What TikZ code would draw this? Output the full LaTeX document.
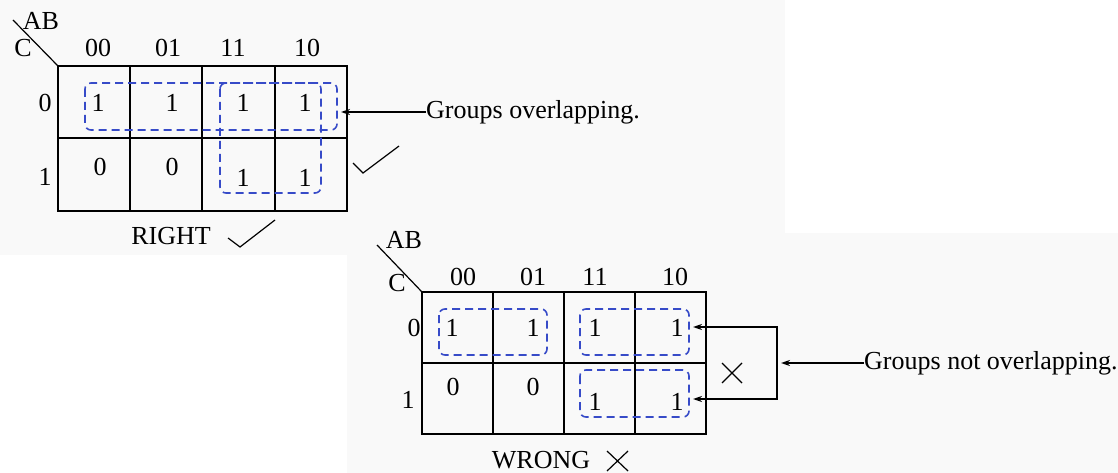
\documentclass[tikz,border=0pt]{standalone}
\usepackage{fontspec}
\setmainfont{Liberation Serif}
\usetikzlibrary{arrows.meta}
\definecolor{grpblue}{RGB}{55,75,200}
\definecolor{bggray}{RGB}{249,249,249}
\tikzset{
  kgrid/.style={line width=2pt},
  kgroup/.style={draw=grpblue,line width=1.6pt,dash pattern=on 8pt off 5pt,rounded corners=6pt},
  lbl/.style={inner sep=0pt,font=\fontsize{26}{29}\selectfont},
  tick/.style={line width=1.2pt},
  pointer/.style={line width=1.5pt,-{Stealth[length=9pt,width=6pt]}}
}

\begin{document}
\begin{tikzpicture}[x=1pt,y=-1pt]
\useasboundingbox (0,0) rectangle (1118,473);
\fill[bggray] (0,0) rectangle (785,255);
\fill[bggray] (347,233) rectangle (1118,473);

% right map
\draw[kgrid] (58,66) rectangle (347,211);
\draw[kgrid] (58,138) -- (347,138);
\foreach \x in {130,202,275} \draw[kgrid] (\x,66) -- (\x,211);
\draw[tick] (13,20) -- (58,66);
\node[lbl] (r-ab) at (41,21) {AB};
\node[lbl] (r-c) at (23,48) {C};
\foreach \t/\x in {00/98,01/168,11/233,10/307}
  \node[lbl] (r-col\t) at (\x,48) {\t};
\node[lbl] (r-row0) at (45,103) {0};
\node[lbl] (r-row1) at (45,177) {1};
\foreach \v/\x/\y [count=\i] in {1/98/103,1/172/103,1/243/103,1/305/103,
    0/100/167,0/172/167,1/243/178,1/305/178}
  \node[lbl] (r-cell\i) at (\x,\y) {\v};
\draw[kgroup] (85,83) rectangle (337,130);
\draw[kgroup] (220,83) rectangle (321,193);
\node[lbl,anchor=west] (r-note) at (426,112) {Groups overlapping.};
\coordinate (r-tip) at (341,112);
\draw[pointer] (r-note.west) -- (r-tip);
\draw[tick] (353,163) -- (363,173) -- (399,146);
\node[lbl] (r-verdict) at (171,236) {RIGHT};
\draw[tick] (228,238) -- (240,247) -- (275,220);

% wrong map
\draw[kgrid] (422,292) rectangle (706,434);
\draw[kgrid] (422,363) -- (706,363);
\foreach \x in {493,564,635} \draw[kgrid] (\x,292) -- (\x,434);
\draw[tick] (377,245) -- (422,292);
\node[lbl] (w-ab) at (404,240) {AB};
\node[lbl] (w-c) at (397,283) {C};
\foreach \t/\x in {00/463,01/533,11/595,10/675}
  \node[lbl] (w-col\t) at (\x,277) {\t};
\node[lbl] (w-row0) at (414,328) {0};
\node[lbl] (w-row1) at (408,400) {1};
\foreach \v/\x/\y [count=\i] in {1/452/328,1/533/328,1/595/328,1/677/328,
    0/453/387,0/533/387,1/595/402,1/677/402}
  \node[lbl] (w-cell\i) at (\x,\y) {\v};
\draw[kgroup] (439,309) rectangle (547,355);
\draw[kgroup] (580,309) rectangle (689,355);
\draw[kgroup] (580,370) rectangle (689,417);
\coordinate (w-bar) at (777,363);
\coordinate (w-top) at (693,327);
\coordinate (w-bot) at (693,399);
\draw[pointer] (w-bar) |- (w-top);
\draw[pointer] (w-bar) |- (w-bot);
\draw[tick] (722,363) -- (742,383) (722,383) -- (742,363);
\node[lbl,anchor=west] (w-note) at (864,363) {Groups not overlapping.};
\coordinate (w-tip) at (781,363);
\draw[pointer] (w-note.west) -- (w-tip);
\node[lbl] (w-verdict) at (541,460) {WRONG};
\draw[tick] (607,451) -- (628,471) (607,471) -- (628,451);
\end{tikzpicture}
\end{document}
